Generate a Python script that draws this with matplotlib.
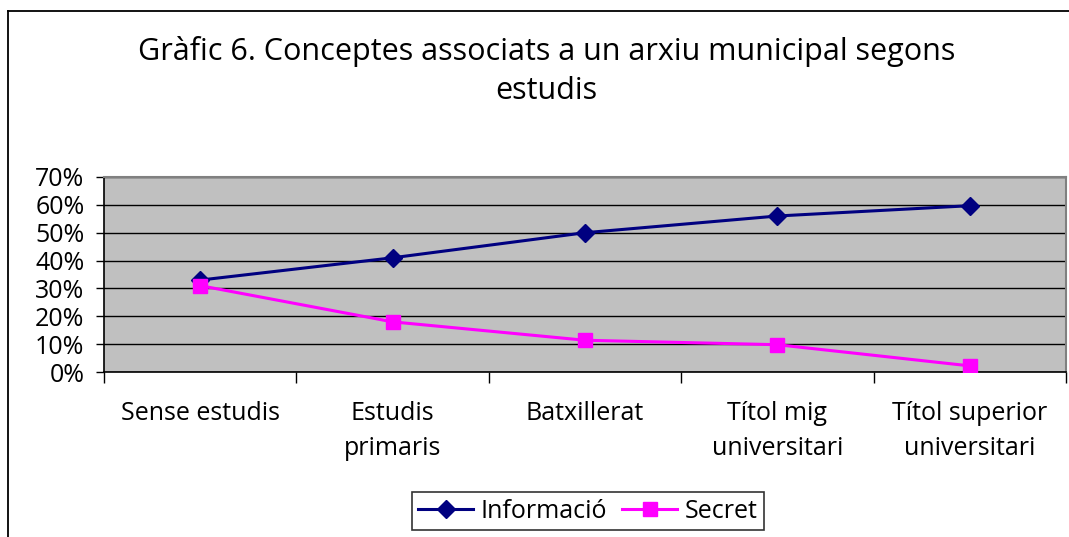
import numpy as np
from matplotlib import pyplot as plt
from matplotlib.lines import Line2D

plt.rcParams['font.family'] = ['Open Sans', 'DejaVu Sans']

categories = ['Sense estudis', 'Estudis\nprimaris', 'Batxillerat', 'Títol mig\nuniversitari', 'Títol superior\nuniversitari']
informacio = [33, 41, 50, 56, 59.7]
secret = [31, 18, 11.4, 9.8, 2.2]
y_ticks = [0, 10, 20, 30, 40, 50, 60, 70]
title = 'Gràfic 6. Conceptes associats a un arxiu municipal segons\nestudis'

fig = plt.figure(figsize=(10.69, 5.37), dpi=100)
ax = fig.add_axes([104 / 1069, 1 - 372 / 537, (1066 - 104) / 1069, (372 - 177) / 537])
ax.set_facecolor('#C0C0C0')

x = np.arange(len(categories))
ax.plot(x, informacio, color='#000080', lw=2.2, marker='D', ms=9, label='Informació', zorder=3)
ax.plot(x, secret, color='#FF00FF', lw=2.2, marker='s', ms=10, label='Secret', zorder=3)

ax.set_xlim(-0.5, len(categories) - 0.5)
ax.set_ylim(0, 70)
ax.set_yticks(y_ticks)
ax.set_yticklabels([f'{v}%' for v in y_ticks], fontsize=18)
ax.yaxis.grid(True, color='black', lw=1)
ax.set_axisbelow(True)

# boundaries get the tick marks, labels sit at the centres
ax.set_xticks(np.arange(len(categories) + 1) - 0.5)
ax.set_xticklabels([])
ax.set_xticks(x, minor=True)
ax.set_xticklabels(categories, minor=True, fontsize=18, linespacing=1.5)
ax.tick_params(axis='x', which='minor', length=0, pad=21)
ax.tick_params(axis='x', which='major', length=8, width=1, color='black')
ax.tick_params(axis='y', length=6, width=1, pad=8)

for side in ['top', 'right']:
    ax.spines[side].set_color('#808080')
    ax.spines[side].set_linewidth(1.5)
for side in ['left', 'bottom']:
    ax.spines[side].set_color('black')
    ax.spines[side].set_linewidth(1.2)

fig.text(0.511, 1 - 71 / 537, title, ha='center', va='center', fontsize=22, linespacing=1.35)

leg = fig.legend(loc='center', bbox_to_anchor=(588 / 1069, 1 - 511 / 537), ncol=2, fontsize=18,
                 frameon=True, fancybox=False, edgecolor='black', borderpad=0.25,
                 handlelength=2.2, handletextpad=0.3, columnspacing=0.6, borderaxespad=0)
leg.get_frame().set_linewidth(1.2)

# outer chart frame (left and top visible)
fig.add_artist(Line2D([8 / 1069, 8 / 1069], [0, 1 - 11 / 537], color='black', lw=1.3, transform=fig.transFigure))
fig.add_artist(Line2D([8 / 1069, 1], [1 - 11 / 537, 1 - 11 / 537], color='black', lw=1.3, transform=fig.transFigure))

fig.savefig('out.png', dpi=100)
